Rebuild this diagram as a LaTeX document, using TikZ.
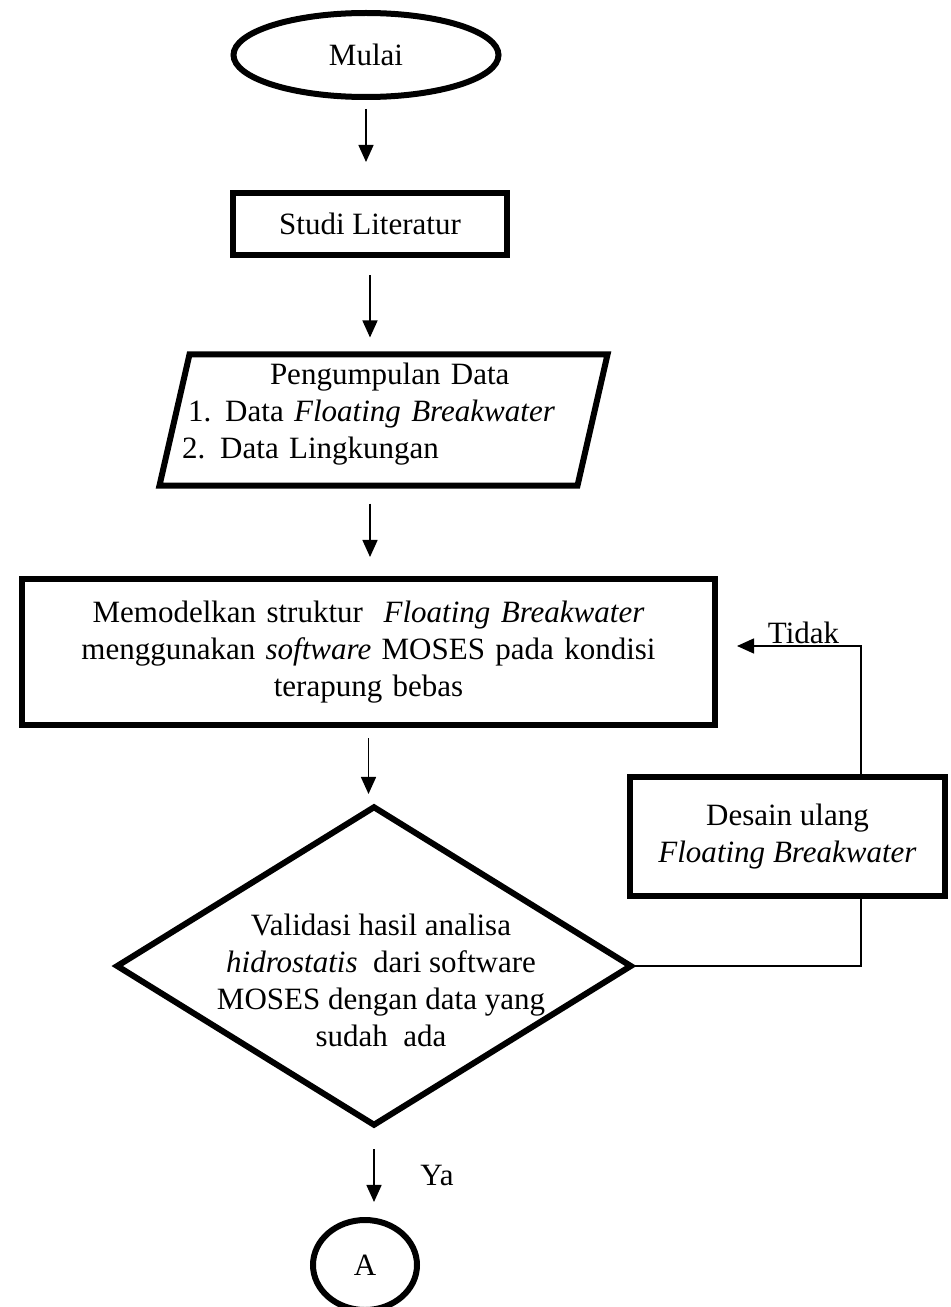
\documentclass[tikz,border=0pt]{standalone}
\usepackage{fontspec}
\setmainfont{Liberation Serif}
\usetikzlibrary{shapes.geometric,arrows.meta,calc}
\newlength{\pxu}
\setlength{\pxu}{0.387pt}

\begin{document}
\begin{tikzpicture}[x=0.387pt,y=-0.387pt,
    font=\fontsize{12}{14.3}\selectfont,
    thickline/.style={line width=6\pxu},
    flowbox/.style={draw,thickline,rectangle,inner sep=0pt,align=center},
    flowarrow/.style={line width=1.7\pxu,-{Triangle[length=6.6pt,width=5.8pt]}},
    flowline/.style={line width=1.5\pxu}]
  \useasboundingbox (0,0) rectangle (950,1307);
  \clip (0,0) rectangle (950,1307);
  % start
  \node[draw,thickline,ellipse,minimum width=265\pxu,minimum height=84\pxu,inner sep=0pt] (mulai) at (366,55) {Mulai};
  \node[flowbox,minimum width=274\pxu,minimum height=62\pxu] (studi) at (370,224) {Studi Literatur};
  % input data
  \node[minimum width=417\pxu,minimum height=130\pxu,inner sep=0pt] (data) at (383.5,420) {};
  \draw[thickline] ($(data.north west)+(15,0)$) -- ($(data.north east)+(15,0)$)
    -- ($(data.south east)+(-15,0)$) -- ($(data.south west)+(-15,0)$) -- cycle;
  \node[align=left,text width=417\pxu,inner sep=0pt] (datatxt) at (383.5,414.5)
    {\hspace*{95\pxu}Pengumpulan Data\\
     \hspace*{13\pxu}1.\hspace{14\pxu}Data \textit{Floating Breakwater}\\
     \hspace*{7\pxu}2.\hspace{15\pxu}Data Lingkungan};
  % model
  \node[flowbox,minimum width=693\pxu,minimum height=146\pxu,text width=680\pxu] (model) at (368.5,652)
    {Memodelkan struktur\ \ \textit{Floating Breakwater}\\
     menggunakan \textit{software} MOSES pada kondisi\\
     terapung bebas};
  % validasi
  \node[draw,thickline,diamond,minimum width=516\pxu,minimum height=320\pxu,inner sep=0pt] (cek) at (374,966) {};
  \node[align=center] (cektxt) at (381,980)
    {Validasi hasil analisa\\
     \textit{hidrostatis}\ \ dari software\\
     MOSES dengan data yang\\
     sudah\ \ ada};
  \node[flowbox,minimum width=315\pxu,minimum height=119\pxu] (desain) at (787.5,836.5)
    {Desain ulang\\\textit{Floating Breakwater}};
  \node[draw,thickline,ellipse,minimum width=104\pxu,minimum height=90\pxu,inner sep=0pt] (konektor) at (365,1265) {A};

  % arrows
  \draw[flowarrow,shorten <=9\pxu,shorten >=28\pxu] (mulai.south) -- (mulai.south |- studi.north);
  \draw[flowarrow,shorten <=17\pxu,shorten >=17\pxu] (studi.south) -- (studi.south |- data.north);
  \draw[flowarrow,shorten <=18\pxu,shorten >=19\pxu] (studi.south |- data.south) -- (studi.south |- model.north);
  \draw[flowarrow,shorten <=10\pxu,shorten >=9\pxu] (model.south) -- (model.south |- cek.north);
  \draw[flowarrow,shorten <=20\pxu,shorten >=15\pxu] (cek.south) -- (cek.south |- konektor.north);
  \node[anchor=base] (ya) at (437,1185) {Ya};

  % loop back
  \coordinate (balik) at (861,646);
  \coordinate (balikujung) at (737,646);
  \draw[flowline] (cek.east) -| (desain.south -| balik);
  \draw[flowarrow] (desain.north -| balik) |- (balikujung);
  \node[anchor=base] (tidak) at (803.5,643) {Tidak};
\end{tikzpicture}
\end{document}
